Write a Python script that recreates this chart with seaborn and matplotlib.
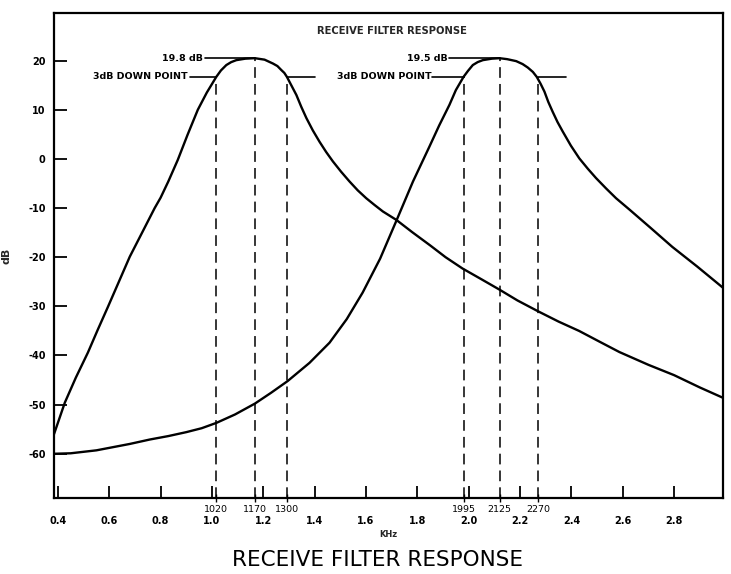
import matplotlib
matplotlib.use("Agg")
import matplotlib.pyplot as plt
import seaborn as sns
import pandas as pd
from matplotlib.ticker import FixedLocator, FixedFormatter

# ---------------- data ----------------
f1_khz = [0.385, 0.427, 0.47, 0.517, 0.555, 0.595, 0.64, 0.68, 0.73, 0.777,
          0.80, 0.83, 0.867, 0.905, 0.945, 0.98, 1.017, 1.035, 1.056, 1.075,
          1.095, 1.13, 1.167, 1.205, 1.238, 1.255, 1.27, 1.282, 1.292, 1.31,
          1.329, 1.348, 1.368, 1.393, 1.419, 1.445, 1.471, 1.503, 1.536, 1.568,
          1.601, 1.634, 1.666, 1.718, 1.78, 1.85, 1.91, 1.976, 2.05, 2.12,
          2.19, 2.27, 2.35, 2.43, 2.51, 2.587, 2.7, 2.8, 2.9, 2.99]
f1_db = [-56, -49.6, -44.5, -39.4, -34.8, -30.1, -24.7, -19.9, -14.8, -10,
         -7.9, -4.6, -0.2, 4.9, 10, 13.5, 16.7, 18.0, 19.1, 19.7,
         20.1, 20.4, 20.5, 20.2, 19.4, 18.9, 18.1, 17.5, 16.7, 14.9,
         13, 10.6, 8.3, 5.8, 3.5, 1.4, -0.5, -2.6, -4.6, -6.4,
         -8, -9.4, -10.7, -12.4, -14.9, -17.6, -20, -22.3, -24.5, -26.6,
         -28.8, -31, -33.1, -35, -37.2, -39.3, -41.9, -44, -46.5, -48.6]

f2_khz = [0.385, 0.45, 0.5, 0.55, 0.6, 0.68, 0.758, 0.83, 0.9, 0.96,
          1.018, 1.09, 1.167, 1.23, 1.295, 1.38, 1.458, 1.525, 1.587, 1.655,
          1.719, 1.783, 1.847, 1.885, 1.925, 1.95, 1.98, 1.997, 2.016, 2.035,
          2.055, 2.09, 2.12, 2.15, 2.185, 2.21, 2.23, 2.25, 2.265, 2.28,
          2.295, 2.31, 2.327, 2.346, 2.366, 2.398, 2.431, 2.464, 2.496, 2.535,
          2.574, 2.626, 2.71, 2.793, 2.89, 2.99]
f2_db = [-60, -59.9, -59.6, -59.3, -58.8, -58.0, -57.1, -56.4, -55.6, -54.8,
         -53.7, -52.0, -49.8, -47.6, -45.2, -41.5, -37.4, -32.6, -27.2, -20.3,
         -12.5, -4.6, 2.5, 6.8, 11, 14.0, 16.7, 17.9, 19.1, 19.7,
         20.1, 20.4, 20.5, 20.3, 19.9, 19.3, 18.6, 17.7, 16.7, 15.3,
         13.7, 11.6, 9.6, 7.5, 5.6, 2.7, 0.1, -2, -3.9, -6,
         -8, -10.3, -14.1, -17.9, -21.9, -26.2]

marker_freqs = [1.017, 1.167, 1.292, 1.98, 2.12, 2.27]
marker_labels = ["1020", "1170", "1300", "1995", "2125", "2270"]
marker_tops = [16.7, 20.5, 16.7, 16.7, 20.5, 16.7]

x_ticks = [0.4, 0.6, 0.8, 1.0, 1.2, 1.4, 1.6, 1.8, 2.0, 2.2, 2.4, 2.6, 2.8]
x_tick_labels = ["0.4", "0.6", "0.8", "1.0", "1.2", "1.4", "1.6", "1.8",
                 "2.0", "2.2", "2.4", "2.6", "2.8"]
y_ticks = [20, 10, 0, -10, -20, -30, -40, -50, -60]
y_tick_labels = ["20", "10", "0", "-10", "-20", "-30", "-40", "-50", "-60"]

peak_labels = ["19.8 dB", "19.5 dB"]
peak_values = [20.5, 20.5]
peak_freqs = [1.167, 2.12]
down_level = 16.7

# ---------------- figure ----------------
sns.set_theme(style="white")
plt.rcParams['font.family'] = ['DejaVu Sans']

fig = plt.figure(figsize=(7.31, 5.74), dpi=100)
ax = fig.add_axes([0.0739, 0.1324, 0.915, 0.8450])

df1 = pd.DataFrame({"khz": f1_khz, "db": f1_db})
df2 = pd.DataFrame({"khz": f2_khz, "db": f2_db})
sns.lineplot(data=df1, x="khz", y="db", ax=ax, color="black", linewidth=1.7, sort=False)
sns.lineplot(data=df2, x="khz", y="db", ax=ax, color="black", linewidth=1.7, sort=False)

ymin, ymax = -69, 29.7
ax.set_xlim(0.385, 2.99)
ax.set_ylim(ymin, ymax)

# dashed marker lines
ax.vlines(marker_freqs, ymin, marker_tops, colors="black", linestyles=(0, (7, 4)),
          linewidth=1.1)

# annotation leader lines + texts
bold = dict(fontsize=6.8, fontweight="bold", color="black")
# first filter
ax.plot([0.972, peak_freqs[0]], [peak_values[0]] * 2, color="black", lw=1.2)
ax.text(0.964, peak_values[0], peak_labels[0], ha="right", va="center", **bold)
ax.plot([0.914, marker_freqs[0]], [down_level] * 2, color="black", lw=1.2)
ax.text(0.906, down_level, "3dB DOWN POINT", ha="right", va="center", **bold)
ax.plot([marker_freqs[2], 1.40], [down_level] * 2, color="black", lw=1.2)
# second filter
ax.plot([1.925, peak_freqs[1]], [peak_values[1]] * 2, color="black", lw=1.2)
ax.text(1.917, peak_values[1], peak_labels[1], ha="right", va="center", **bold)
ax.plot([1.859, marker_freqs[3]], [down_level] * 2, color="black", lw=1.2)
ax.text(1.855, down_level, "3dB DOWN POINT", ha="right", va="center", **bold)
ax.plot([marker_freqs[5], 2.38], [down_level] * 2, color="black", lw=1.2)

# inner title
ax.text(1.70, 26.1, "RECEIVE FILTER RESPONSE", ha="center", va="center",
        fontsize=7.2, fontweight="bold")

# ticks
ax.xaxis.set_major_locator(FixedLocator(x_ticks))
ax.xaxis.set_major_formatter(FixedFormatter(x_tick_labels))
ax.xaxis.set_minor_locator(FixedLocator(marker_freqs))
ax.xaxis.set_minor_formatter(FixedFormatter(marker_labels))
ax.set_yticks(y_ticks)
ax.set_yticklabels(y_tick_labels)

ax.tick_params(axis="x", which="major", direction="in", length=9, width=1.3,
               pad=13, labelsize=7, colors="black", bottom=True)
ax.tick_params(axis="x", which="minor", direction="inout", length=6, width=1.0,
               pad=2, labelsize=6.8, colors="black", bottom=True)
ax.tick_params(axis="y", which="major", direction="in", length=9, width=1.3,
               pad=6, labelsize=7, colors="black", left=True)
for lab in ax.get_xticklabels() + ax.get_yticklabels():
    lab.set_fontweight("bold")

for s in ax.spines.values():
    s.set_visible(True)
    s.set_color("black")
    s.set_linewidth(1.6)

ax.set_xlabel("KHz", fontsize=6, fontweight="bold", labelpad=3)
ax.set_ylabel("dB", fontsize=8, fontweight="bold", labelpad=12)

fig.text(0.517, 0.025, "RECEIVE FILTER RESPONSE", ha="center", va="center",
         fontsize=15.5, color="black")

fig.savefig("out.png", dpi=100)
